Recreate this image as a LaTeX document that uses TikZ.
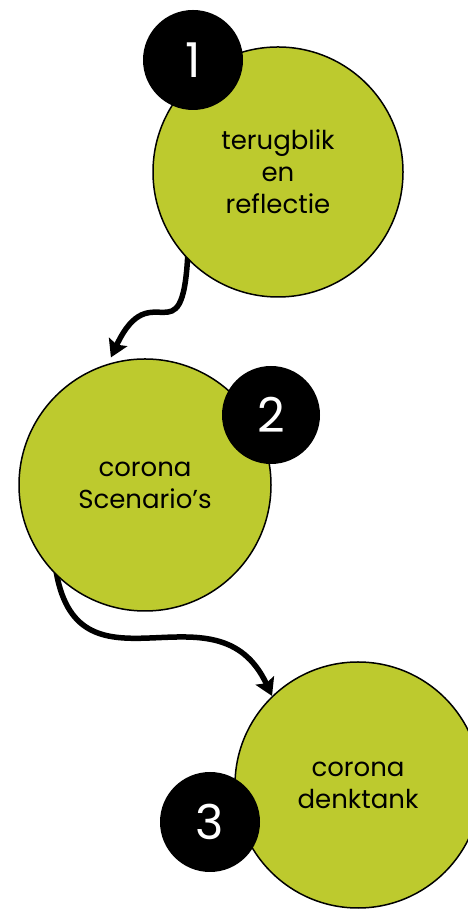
\documentclass[tikz,border=0pt]{standalone}
\usepackage{fontspec}
\setmainfont{Poppins}
\usetikzlibrary{positioning,arrows.meta,backgrounds}
\definecolor{limegreen}{RGB}{189,202,46}

\begin{document}
\begin{tikzpicture}[x=1pt,y=1pt,
  bigdot/.style={circle,draw=black,line width=1.5pt,fill=limegreen,
    inner sep=0pt,align=center,font=\fontsize{26}{32}\selectfont},
  numdot/.style={circle,fill=black,text=white,inner sep=0pt,
    minimum size=100pt,font=\fontsize{48}{48}\selectfont},
  flow/.style={line width=5.5pt,-{Stealth[length=17pt,width=20pt,inset=3pt]}}]
\useasboundingbox (0,0) rectangle (467,909);
% steps
\node[bigdot,minimum size=250pt] (c1) at (278,737) {terugblik\\en\\reflectie};
\node[numdot] (n1) at (193,849) {1};
\node[bigdot,minimum size=252pt] (c2) at (145,424) {corona\\Scenario’s};
\node[numdot,minimum size=98pt] (n2) at (271,494) {2};
\node[bigdot,minimum size=246pt] (c3) at (358,124) {corona\\denktank};
\node[numdot] (n3) at (210,87) {3};
% connectors
\begin{pgfonlayer}{background}
\draw[flow,shorten <=-4pt,shorten >=7pt] (c1.224) to[out=-93,in=65,looseness=2] (c2.107);
\draw[flow,shorten <=-4pt] (c2.226) to[out=-80,in=115,looseness=1.35] (c3.134);
\end{pgfonlayer}
\end{tikzpicture}
\end{document}
